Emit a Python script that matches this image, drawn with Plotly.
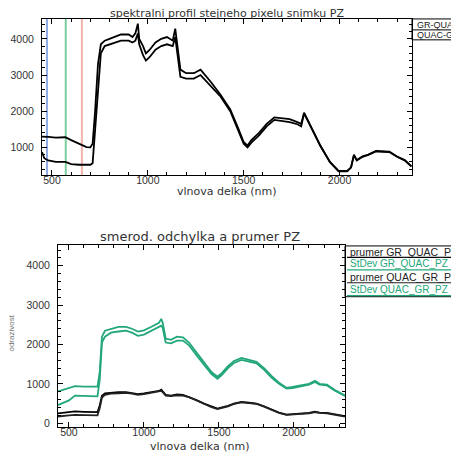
import plotly.graph_objects as go

# page body has an 8px default margin; figure is drawn in reference pixel
# coordinates shifted by that offset
OFF = 8
W, H = 451, 450

# ---------------- data: top panel ----------------
top_title = "spektralni profil stejneho pixelu snimku PZ"
x_title = "vlnova delka (nm)"
top_names = ["GR-QUAC_PZ", "QUAC-GR_PZ"]
top_wl = [448, 460, 480, 520, 570, 600, 640, 680, 700, 712, 725, 740, 755, 775, 800,
          830, 860, 900, 920, 935, 948, 955, 975, 990, 1010, 1040, 1070, 1100, 1130,
          1143, 1155, 1170, 1200, 1240, 1275, 1300, 1330, 1380, 1430, 1470, 1500, 1520,
          1540, 1580, 1620, 1660, 1700, 1740, 1780, 1800, 1815, 1850, 1900, 1950, 1995,
          2040, 2060, 2075, 2090, 2120, 2150, 2190, 2230, 2260, 2300, 2340, 2375]
top_a = [1300, 1290, 1290, 1270, 1280, 1200, 1100, 1010, 1000, 1100, 2000, 3300, 3850,
         3950, 4000, 4050, 4120, 4120, 4050, 4150, 4420, 4000, 3800, 3600, 3700, 3900,
         4000, 4050, 3950, 4280, 3700, 3150, 3050, 3050, 3150, 3000, 2800, 2450, 2050,
         1550, 1150, 1050, 1200, 1400, 1650, 1830, 1800, 1780, 1700, 1650, 1960, 1600,
         1050, 600, 350, 350, 450, 800, 650, 750, 800, 900, 900, 880, 750, 650, 480]
top_b = [870, 700, 640, 600, 600, 540, 520, 520, 520, 560, 1500, 2800, 3600, 3800,
         3850, 3900, 3950, 3950, 3900, 3950, 4150, 3850, 3550, 3400, 3500, 3700, 3800,
         3850, 3800, 4050, 3500, 2950, 2900, 2900, 3000, 2850, 2700, 2400, 2000, 1500,
         1100, 1000, 1130, 1330, 1580, 1760, 1740, 1700, 1640, 1580, 1940, 1580, 1040,
         590, 340, 340, 440, 780, 640, 740, 790, 890, 890, 870, 740, 640, 470]
band_wl = [474, 572, 656]
band_colors = ["#8fa9e6", "#7ccf9c", "#f2b4aa"]
top_ticks = [500, 1000, 1500, 2000]
top_yticks = [1000, 2000, 3000, 4000]

# ---------------- data: bottom panel ----------------
bot_title = "smerod. odchylka a prumer PZ"
bot_ytitle = "odrazivost"
bot_names = ["prumer GR_QUAC_PZ", "StDev GR_QUAC_PZ", "prumer QUAC_GR_PZ", "StDev QUAC_GR_PZ"]
bot_wl = [427, 460, 500, 540, 600, 650, 690, 705, 720, 740, 780, 830, 880, 920, 960, 1000,
          1050, 1100, 1115, 1125, 1145, 1180, 1220, 1260, 1300, 1350, 1400, 1450, 1490,
          1520, 1560, 1600, 1650, 1700, 1750, 1800, 1850, 1900, 1950, 1990, 2050, 2100,
          2140, 2170, 2220, 2270, 2340]
green_up = [810, 850, 900, 940, 930, 920, 930, 1300, 2200, 2350, 2400, 2450, 2450, 2400,
            2330, 2360, 2450, 2550, 2650, 2550, 2150, 2120, 2200, 2180, 2050, 1800, 1550,
            1300, 1180, 1280, 1450, 1580, 1660, 1600, 1560, 1400, 1200, 1030, 900, 920,
            960, 1000, 1080, 1000, 980, 850, 700]
green_lo = [460, 520, 580, 700, 690, 680, 680, 1100, 2050, 2200, 2300, 2330, 2350, 2300,
            2220, 2250, 2350, 2430, 2480, 2420, 2050, 2030, 2100, 2100, 1980, 1730, 1480,
            1250, 1130, 1230, 1400, 1530, 1610, 1560, 1520, 1360, 1160, 1000, 880, 890,
            940, 980, 1050, 980, 960, 830, 690]
black_up = [250, 270, 280, 300, 290, 280, 280, 450, 700, 760, 780, 790, 790, 770, 740, 760,
            790, 820, 850, 810, 720, 700, 730, 720, 670, 590, 500, 420, 370, 400, 440, 500,
            540, 520, 500, 430, 340, 270, 220, 230, 250, 260, 290, 270, 260, 220, 180]
black_lo = [170, 190, 200, 210, 210, 200, 200, 380, 650, 720, 750, 760, 770, 750, 720, 740,
            770, 800, 820, 790, 700, 690, 710, 700, 660, 580, 490, 410, 360, 390, 430, 490,
            530, 510, 490, 420, 330, 260, 210, 220, 240, 250, 280, 260, 250, 210, 170]
bot_ticks = [500, 1000, 1500, 2000]
bot_yticks = [0, 1000, 2000, 3000, 4000]

GREEN = "#23a77a"
FONT = "Liberation Sans"
TFONT = "DejaVu Sans"


def px(x):
    return (x - OFF) / W


def py(y):
    return 1 - (y - OFF) / H


fig = go.Figure()

for name, vals in zip(top_names, [top_a, top_b]):
    fig.add_trace(go.Scatter(x=top_wl, y=vals, mode="lines", name=name,
                             line=dict(color="black", width=1.8),
                             xaxis="x", yaxis="y", showlegend=False))

bot_series = [black_up, green_up, black_lo, green_lo]
bot_colors = ["black", GREEN, "#222222", GREEN]
for name, vals, c in zip(bot_names, bot_series, bot_colors):
    fig.add_trace(go.Scatter(x=bot_wl, y=vals, mode="lines", name=name,
                             line=dict(color=c, width=1.8),
                             xaxis="x2", yaxis="y2", showlegend=False))

axis_common = dict(showline=True, linecolor="black", linewidth=1, mirror="allticks",
                   ticks="inside", ticklen=5, tickcolor="black", showgrid=False,
                   zeroline=False, tickfont=dict(family=FONT, size=10.5, color="#333"))
minor = dict(ticks="inside", ticklen=3, tickcolor="black")

fig.update_layout(
    width=W, height=H,
    margin=dict(l=0, r=0, t=0, b=0),
    paper_bgcolor="white", plot_bgcolor="white",
    xaxis=dict(domain=[px(42), px(412)], range=[448, 2378], anchor="y",
               tickvals=top_ticks, minor=dict(dtick=100, **minor),
               ticklabelstandoff=-5, **axis_common),
    yaxis=dict(domain=[py(176), py(19)], range=[230, 4550], anchor="x",
               tickvals=top_yticks, minor=dict(dtick=200, **minor),
               ticklabelstandoff=5, **axis_common),
    xaxis2=dict(domain=[px(58), px(345)], range=[427, 2340], anchor="y2",
                tickvals=bot_ticks, minor=dict(dtick=100, **minor),
                ticklabelstandoff=-5, **axis_common),
    yaxis2=dict(domain=[py(429), py(246)], range=[-100, 4530], anchor="x2",
                tickvals=bot_yticks, minor=dict(dtick=200, **minor),
                ticklabelstandoff=5, **axis_common),
)

for wl, c in zip(band_wl, band_colors):
    fig.add_shape(type="line", xref="x", yref="y", x0=wl, x1=wl, y0=230, y1=4550,
                  line=dict(color=c, width=2), layer="below")


def label(text, x, y, size, color="#333", family=TFONT, xanchor="center", angle=0,
          pad=1):
    fig.add_annotation(text=text, xref="paper", yref="paper", x=px(x), y=py(y),
                       xanchor=xanchor, yanchor="middle", showarrow=False,
                       borderpad=pad, textangle=angle,
                       font=dict(family=family, size=size, color=color))


label(top_title, 227, 13.5, 11, pad=0)
label(x_title, 227, 192, 11)
label(bot_title, 200, 238, 13)
label(x_title, 200, 448, 11)
label(bot_ytitle, 12, 335, 8, color="#777", family=FONT, angle=-90)

# top legend
fig.add_shape(type="rect", xref="paper", yref="paper", x0=px(412), x1=px(480),
              y0=py(40), y1=py(19), line=dict(color="black", width=1))
fig.add_shape(type="line", xref="paper", yref="paper", x0=px(412), x1=px(480),
              y0=py(30), y1=py(30), line=dict(color="black", width=1))
for i, name in enumerate(top_names):
    label(name, 415, 25 + 10 * i, 9, color="#222", family=FONT, xanchor="left")

# bottom legend
fig.add_shape(type="rect", xref="paper", yref="paper", x0=px(345), x1=px(480),
              y0=py(298), y1=py(247), line=dict(color="black", width=1))
row_y = [253, 265, 278, 291]
line_y = [258.5, 271, 284, 297]
for name, c, ty, ly in zip(bot_names, bot_colors, row_y, line_y):
    label(name, 348, ty, 10.5 if c != GREEN else 10,
          color=c if c == GREEN else "#222", family=FONT, xanchor="left")
    fig.add_shape(type="line", xref="paper", yref="paper", x0=px(347), x1=px(480),
                  y0=py(ly), y1=py(ly), line=dict(color=c, width=1.2))

fig.write_html("out.html")
